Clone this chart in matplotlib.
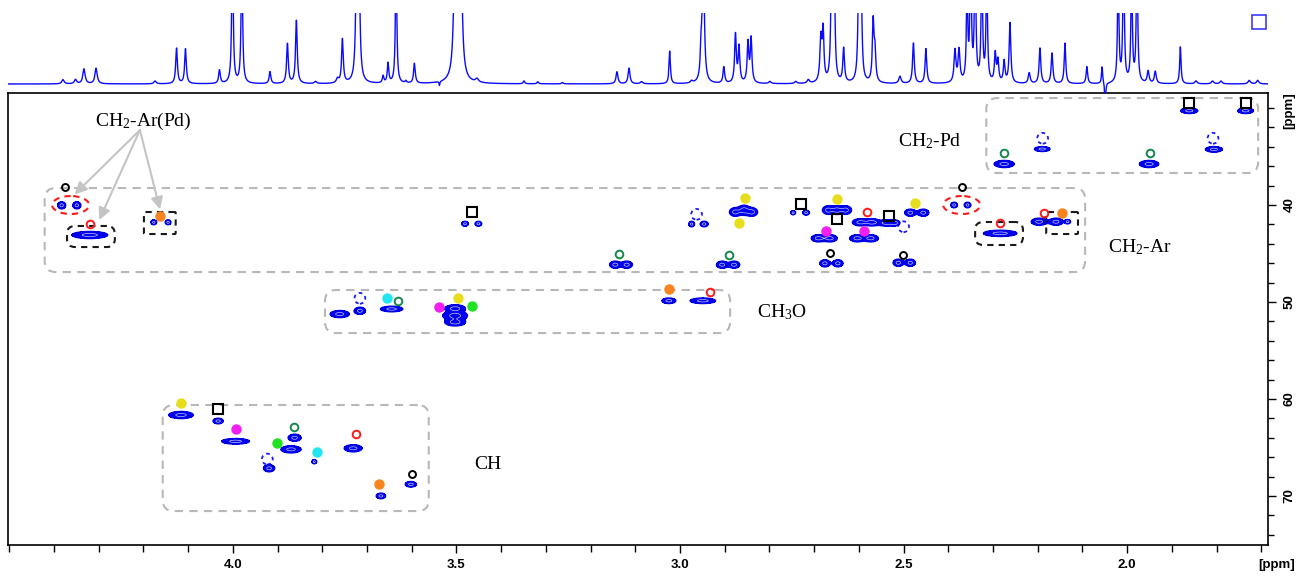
import numpy as np
import matplotlib
matplotlib.use("Agg")
import matplotlib.pyplot as plt
from matplotlib.patches import Ellipse, FancyBboxPatch
from matplotlib.ticker import MultipleLocator, FixedLocator, FormatStrFormatter

plt.rcParams['mathtext.fontset'] = 'custom'
plt.rcParams['mathtext.rm'] = 'Liberation Serif'
plt.rcParams['mathtext.it'] = 'Liberation Serif:italic'
plt.rcParams['mathtext.bf'] = 'Liberation Serif:bold'

# ---------------- 1H projection: peak list ----------------
proj_shift = [4.380, 4.352, 4.333, 4.306, 4.174, 4.126, 4.106, 4.030, 4.001, 3.980,
              3.917, 3.878, 3.858, 3.815, 3.766, 3.755, 3.723, 3.718, 3.664, 3.653,
              3.635, 3.613, 3.594, 3.538, 3.502, 3.491, 3.454, 3.349, 3.318, 3.263,
              3.141, 3.114, 3.086, 3.023, 2.974, 2.953, 2.948, 2.902, 2.876, 2.868,
              2.848, 2.841, 2.799, 2.741, 2.713, 2.685, 2.680, 2.661, 2.655, 2.634,
              2.600, 2.595, 2.568, 2.564, 2.508, 2.478, 2.450, 2.385, 2.376, 2.358,
              2.350, 2.340, 2.325, 2.314, 2.295, 2.289, 2.275, 2.262, 2.219, 2.195,
              2.168, 2.139, 2.090, 2.056, 2.049, 2.020, 2.008, 1.990, 1.978, 1.953,
              1.937, 1.881, 1.846, 1.809, 1.790, 1.727, 1.708]
proj_height = [0.06, 0.06, 0.21, 0.22, 0.04, 0.50, 0.49, 0.19, 2.2, 2.0,
               0.17, 0.56, 0.89, 0.03, 0.06, 0.62, 1.8, 1.5, 0.10, 0.28,
               1.8, 0.03, 0.28, -0.06, 3.0, 2.6, 0.05, 0.04, 0.03, 0.02,
               0.17, 0.22, 0.03, 0.46, 0.03, 0.35, 2.0, 0.23, 0.68, 0.50,
               0.56, 0.62, 0.03, 0.03, 0.05, 0.60, 0.70, 1.6, 1.3, 0.48,
               1.6, 1.3, 0.85, 0.40, 0.10, 0.57, 0.49, 0.45, 0.45, 1.3,
               2.0, 2.0, 1.8, 1.6, 0.40, 0.30, 0.30, 0.85, 0.15, 0.50,
               0.43, 0.57, 0.24, 0.24, -0.35, 1.6, 2.0, 1.6, 1.9, 0.17,
               0.17, 0.52, 0.04, 0.04, 0.04, 0.05, 0.05]
proj_hwhm = [0.003, 0.003, 0.003, 0.003, 0.003, 0.0022, 0.0022, 0.0022, 0.0018, 0.0018,
             0.0022, 0.0022, 0.0022, 0.003, 0.003, 0.0022, 0.0025, 0.0025, 0.002, 0.002,
             0.0018, 0.002, 0.0022, 0.001, 0.0032, 0.0032, 0.004, 0.002, 0.002, 0.002,
             0.0025, 0.0025, 0.003, 0.0018, 0.003, 0.002, 0.0025, 0.0022, 0.0022, 0.0022,
             0.0022, 0.0022, 0.003, 0.003, 0.003, 0.0025, 0.0022, 0.0022, 0.0022, 0.0022,
             0.0022, 0.0022, 0.0022, 0.0022, 0.003, 0.0022, 0.0022, 0.0025, 0.0025, 0.0018,
             0.0018, 0.0018, 0.0018, 0.0018, 0.0022, 0.0022, 0.0022, 0.0022, 0.0025, 0.0022,
             0.0022, 0.002, 0.002, 0.0015, 0.0012, 0.0018, 0.0018, 0.0018, 0.0018, 0.0025,
             0.0025, 0.0018, 0.003, 0.003, 0.003, 0.003, 0.003]

# ---------------- HSQC cross peaks ----------------
# 1H shift, 13C shift, extent along 1H (ppm), extent along 13C (ppm)
xp_h = [4.383, 4.349, 4.320, 4.177, 4.145, 3.481, 3.451, 2.974, 2.946, 2.877,
        2.857, 2.839, 2.747, 2.718, 2.669, 2.649, 2.629, 2.597, 2.570, 2.539,
        2.519, 2.691, 2.664, 2.604, 2.573, 3.145, 3.119, 2.906, 2.879, 2.676,
        2.647, 2.512, 2.485, 2.485, 2.456, 2.387, 2.357, 2.284, 2.197, 2.159,
        2.133, 2.275, 2.190, 1.951, 1.806, 1.861, 1.735, 3.761, 3.716, 3.645,
        3.503, 3.503, 3.503, 3.025, 2.949, 4.116, 4.033, 3.994, 3.862, 3.870,
        3.919, 3.818, 3.731, 3.602, 3.669]
xp_c = [40.03, 40.03, 43.09, 41.78, 41.78, 41.93, 41.93, 41.96, 41.96, 40.72,
        40.52, 40.72, 40.79, 40.79, 40.52, 40.52, 40.52, 41.78, 41.78, 41.85,
        41.85, 43.43, 43.43, 43.43, 43.43, 46.15, 46.15, 46.15, 46.15, 46.01,
        46.01, 45.95, 45.95, 40.79, 40.79, 40.00, 40.00, 42.92, 41.72, 41.72,
        41.72, 35.77, 34.23, 35.77, 34.26, 30.28, 30.28, 51.24, 50.90, 50.72,
        50.65, 51.40, 52.10, 49.87, 49.87, 61.65, 62.27, 64.36, 63.99, 65.19,
        67.14, 66.46, 65.08, 68.79, 69.99]
xp_dh = [0.018, 0.018, 0.080, 0.013, 0.013, 0.015, 0.015, 0.013, 0.018, 0.025,
         0.025, 0.025, 0.011, 0.015, 0.025, 0.025, 0.025, 0.035, 0.031, 0.035,
         0.021, 0.031, 0.031, 0.033, 0.033, 0.025, 0.025, 0.025, 0.025, 0.023,
         0.023, 0.023, 0.023, 0.025, 0.025, 0.015, 0.015, 0.075, 0.035, 0.031,
         0.013, 0.045, 0.035, 0.043, 0.038, 0.038, 0.035, 0.043, 0.025, 0.050,
         0.045, 0.055, 0.045, 0.031, 0.057, 0.055, 0.023, 0.062, 0.029, 0.045,
         0.025, 0.011, 0.040, 0.025, 0.021]
xp_dc = [0.73, 0.73, 0.73, 0.50, 0.50, 0.50, 0.50, 0.57, 0.57, 0.87,
         1.00, 0.87, 0.43, 0.50, 0.87, 0.87, 0.87, 0.73, 0.73, 0.64,
         0.57, 0.73, 0.73, 0.73, 0.73, 0.73, 0.73, 0.73, 0.73, 0.73,
         0.73, 0.73, 0.73, 0.73, 0.73, 0.57, 0.57, 0.64, 0.73, 0.73,
         0.43, 0.73, 0.50, 0.73, 0.57, 0.57, 0.57, 0.73, 0.73, 0.57,
         0.73, 0.90, 0.73, 0.57, 0.57, 0.73, 0.57, 0.57, 0.73, 0.73,
         0.73, 0.43, 0.73, 0.57, 0.57]

# ---------------- assignment markers (1H, 13C) ----------------
ring_black_h = [4.376, 2.664, 2.370, 2.502, 3.600]
ring_black_c = [38.18, 44.98, 38.11, 45.15, 67.73]
ring_red_h = [4.320, 2.582, 2.284, 2.187, 2.933, 3.725]
ring_red_c = [41.99, 40.72, 41.82, 40.79, 49.00, 63.64]
ring_green_h = [3.136, 2.890, 2.275, 1.950, 3.630, 3.864]
ring_green_c = [45.05, 45.15, 34.67, 34.67, 49.90, 62.86]
dot_orange_h = [4.163, 2.146, 3.024, 3.673]
dot_orange_c = [41.10, 40.86, 48.69, 68.79]
dot_yellow_h = [2.855, 2.868, 2.648, 2.474, 3.496, 4.115]
dot_yellow_c = [39.25, 41.89, 39.41, 39.76, 49.62, 60.38]
dot_magenta_h = [2.674, 2.588, 3.538, 3.993]
dot_magenta_c = [42.65, 42.65, 50.55, 63.12]
dot_cyan_h = [3.656, 3.812]
dot_cyan_c = [49.62, 65.43]
dot_lime_h = [3.465, 3.902]
dot_lime_c = [50.41, 64.57]
square_h = [3.465, 2.730, 2.649, 2.533, 1.861, 1.734, 4.033]
square_c = [40.69, 39.90, 41.47, 41.10, 29.45, 29.45, 61.06]
dashed_ring_h = [2.963, 2.500, 2.189, 1.808, 3.716, 3.923]
dashed_ring_c = [40.96, 42.24, 33.12, 33.12, 49.62, 66.19]

# ---------------- group regions (1H from/to, 13C from/to) ----------------
group_names = ['CH$_2$-Ar', 'CH$_2$-Pd', 'CH$_3$O', 'CH']
group_h = [(4.421, 2.094), (2.315, 1.707), (3.794, 2.888), (4.157, 3.562)]
group_c = [(38.25, 46.91), (28.97, 36.70), (48.76, 53.20), (60.62, 71.55)]
group_label_pos = [(1.971, 44.30), (2.441, 33.40), (2.772, 51.03), (3.430, 66.70)]

# Pd-bound benzylic signals (highlighted)
pd_box_h = [(4.371, 4.264), (4.199, 4.128), (2.340, 2.233), (2.181, 2.110)]
pd_box_c = [(42.16, 44.33), (40.72, 42.99), (41.75, 44.12), (40.72, 42.99)]
pd_box_round = [8, 1, 8, 1]
pd_ellipse_h = [4.363, 2.370]
pd_ellipse_c = [40.0, 40.0]
pd_label_pos = (4.201, 31.34)
pd_arrow_from = (4.208, 32.27)
pd_arrow_to = [(4.354, 38.90), (4.299, 41.55), (4.163, 40.45)]

XLIM = (4.503, 1.685)
YLIM = (75.05, 28.45)

fig = plt.figure(figsize=(12.99, 5.79), dpi=100)
ax = fig.add_axes([8 / 1299, 34 / 579, 1260 / 1299, 452 / 579])
axp = fig.add_axes([8 / 1299, 486 / 579, 1260 / 1299, 80 / 579], sharex=ax)

# ---- projection trace ----
ppm = np.linspace(XLIM[1], XLIM[0], 9000)
trace = np.zeros_like(ppm)
for s, hgt, w in zip(proj_shift, proj_height, proj_hwhm):
    trace += hgt / (1.0 + ((ppm - s) / w) ** 2)
axp.plot(ppm, trace, color='#0a0aff', lw=1.0)
axp.set_ylim(-0.127, 1.0)
axp.set_axis_off()
axp.plot([0.993], [0.8875], marker='s', ms=10, mfc='none', mec='#3a3aff', mew=1.2,
         transform=axp.transAxes, clip_on=False)

# ---- 2D contours ----
gh = np.linspace(1.68, 4.51, 2600)
gc = np.linspace(28.3, 75.2, 940)
field = np.zeros((gc.size, gh.size))
for h, c, dh, dc in zip(xp_h, xp_c, xp_dh, xp_dc):
    sh, sc = dh / 3.1, dc / 3.1
    field += np.outer(np.exp(-0.5 * ((gc - c) / sc) ** 2), np.exp(-0.5 * ((gh - h) / sh) ** 2))
ax.contourf(gh, gc, field, levels=[0.3, field.max() + 1], colors=['#0000f0'])
ax.contour(gh, gc, field, levels=[0.3], colors='#0000e0', linewidths=1.0)
ax.contour(gh, gc, field, levels=[0.8], colors='#d8d8ff', linewidths=0.45)

ax.set_xlim(*XLIM)
ax.set_ylim(*YLIM)

# pixel scale of each axis, for rounded boxes
fig.canvas.draw()
bb = ax.get_window_extent()
px_h = bb.width / abs(XLIM[0] - XLIM[1])
px_c = bb.height / abs(YLIM[0] - YLIM[1])
aspect = px_h / px_c


def rounded_box(hr, cr, radius_px, **kw):
    h0, h1 = min(hr), max(hr)
    c0, c1 = min(cr), max(cr)
    r = radius_px / px_h
    p = FancyBboxPatch((h0, c0), h1 - h0, c1 - c0,
                       boxstyle=f"round,pad=0,rounding_size={r}",
                       mutation_aspect=aspect, fill=False, **kw)
    ax.add_patch(p)


for hr, cr in zip(group_h, group_c):
    rounded_box(hr, cr, 11, ec='#b8b8b8', lw=1.5, ls=(0, (4, 3)))
for (x, y), name in zip(group_label_pos, group_names):
    ax.text(x, y, name, fontsize=14, family='Liberation Serif', ha='center', va='center')

for hr, cr, rr in zip(pd_box_h, pd_box_c, pd_box_round):
    rounded_box(hr, cr, rr, ec='#1a1a1a', lw=1.5, ls=(0, (3, 2.5)))
for h, c in zip(pd_ellipse_h, pd_ellipse_c):
    ax.add_patch(Ellipse((h, c), 37 / px_h, 18 / px_c, fill=False, ec='#ff1a1a',
                         lw=1.5, ls=(0, (3, 2.5))))

ax.text(pd_label_pos[0], pd_label_pos[1], 'CH$_2$-Ar(Pd)', fontsize=14,
        family='Liberation Serif', ha='center', va='center')
for tgt in pd_arrow_to:
    ax.annotate('', xy=tgt, xytext=pd_arrow_from,
                arrowprops=dict(arrowstyle='-|>', color='#c4c4c4', lw=1.5,
                                mutation_scale=18, shrinkA=0, shrinkB=0))

# ---- markers ----
ax.plot(ring_black_h, ring_black_c, 'o', ms=5, mfc='none', mec='black', mew=1.4)
ax.plot(ring_red_h, ring_red_c, 'o', ms=5.5, mfc='none', mec='#ff1a1a', mew=1.4)
ax.plot(ring_green_h, ring_green_c, 'o', ms=5.5, mfc='none', mec='#14884a', mew=1.4)
ax.plot(dot_orange_h, dot_orange_c, 'o', ms=7.5, color='#f7841e', mec='none')
ax.plot(dot_yellow_h, dot_yellow_c, 'o', ms=7.5, color='#e8dd1c', mec='none')
ax.plot(dot_magenta_h, dot_magenta_c, 'o', ms=7.5, color='#f21ef2', mec='none')
ax.plot(dot_cyan_h, dot_cyan_c, 'o', ms=7.5, color='#22e6f2', mec='none')
ax.plot(dot_lime_h, dot_lime_c, 'o', ms=7.5, color='#22e022', mec='none')
ax.plot(square_h, square_c, 's', ms=6.5, mfc='none', mec='black', mew=1.5)
ax.scatter(dashed_ring_h, dashed_ring_c, s=60, facecolors='none', edgecolors='#1a1aff',
           linewidths=1.3, linestyles=(0, (2, 2)))

# ---- axes styling ----
for sp in ax.spines.values():
    sp.set_linewidth(1.2)
ax.xaxis.set_major_locator(FixedLocator([4.0, 3.5, 3.0, 2.5, 2.0]))
ax.xaxis.set_minor_locator(MultipleLocator(0.1))
ax.xaxis.set_major_formatter(FormatStrFormatter('%.1f'))
ax.yaxis.set_major_locator(FixedLocator([40, 50, 60, 70]))
ax.yaxis.set_minor_locator(MultipleLocator(2))
ax.yaxis.tick_right()
ax.tick_params(axis='x', which='major', direction='out', length=6, width=1.0, pad=4)
ax.tick_params(axis='x', which='minor', direction='out', length=5, width=1.0)
ax.tick_params(axis='y', which='major', direction='out', length=6, width=1.0, pad=5)
ax.tick_params(axis='y', which='minor', direction='out', length=4.5, width=1.0)
tick_font = dict(family='Liberation Sans', weight='bold', size=9.5)
for lab in ax.get_xticklabels():
    lab.set(**tick_font)
for lab in ax.get_yticklabels():
    lab.set(**tick_font)
    lab.set_rotation(90)
    lab.set_va('center')
ax.text(1.0215, -0.044, '[ppm]', transform=ax.transAxes, ha='right', va='center', **tick_font)
ax.text(1.017, 0.962, '[ppm]', transform=ax.transAxes, ha='center', va='center',
        rotation=90, **tick_font)

fig.savefig('out.png', dpi=100)
